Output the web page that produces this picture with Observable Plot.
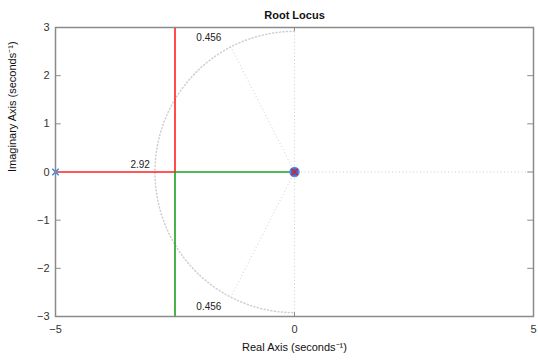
<!DOCTYPE html>
<html><head><meta charset="utf-8">
<script src="https://cdn.jsdelivr.net/npm/d3@7"></script>
<script src="https://cdn.jsdelivr.net/npm/@observablehq/plot@0.6"></script>
<style>body{margin:0;background:#fff}</style>
</head><body><div id="chart"></div>
<script>
// Locus branches
const redRe = [-5, -2.5, -2.5];
const redIm = [0, 0, 3];
const greenRe = [0, -2.5, -2.5];
const greenIm = [0, 0, -3];
// Poles
const poleRe = [0, -5];
const poleIm = [0, 0];
// Grid values
const wnGrid = [2.92];
const zetaGrid = [0.456];
// Ticks
const xTicks = [-5, 0, 5];
const yTicks = [-3, -2, -1, 0, 1, 2, 3];

const red = redRe.map((x, i) => ({x, y: redIm[i]}));
const green = greenRe.map((x, i) => ({x, y: greenIm[i]}));
const poles = poleRe.map((x, i) => ({x, y: poleIm[i]}));
const wn = wnGrid[0], z = zetaGrid[0];
const arc = d3.range(90, 270.1, 1).map(a => ({x: wn*Math.cos(a*Math.PI/180), y: wn*Math.sin(a*Math.PI/180)}));
const s = Math.sqrt(1 - z*z);
const dampLines = [
  {x1: 0, y1: 0, x2: -wn*z, y2: wn*s},
  {x1: 0, y1: 0, x2: -wn*z, y2: -wn*s}
];
const dash = "1,2.5";
const gridCol = "#cfcfcf";
const font = "Liberation Sans, Arial, sans-serif";

const plot = Plot.plot({
  width: 538, height: 363,
  marginLeft: 55, marginRight: 5, marginTop: 27, marginBottom: 47,
  style: {fontFamily: font, fontSize: "11px", background: "#fff"},
  x: {domain: [-5, 5], axis: null},
  y: {domain: [-3, 3], axis: null},
  marks: [
    // grid
    Plot.line(arc, {x: "x", y: "y", stroke: gridCol, strokeDasharray: dash}),
    Plot.link(dampLines, {x1: "x1", y1: "y1", x2: "x2", y2: "y2", stroke: gridCol, strokeDasharray: dash}),
    Plot.ruleX([0], {y1: -3, y2: 3, stroke: gridCol, strokeDasharray: dash}),
    Plot.ruleY([0], {x1: 0, x2: 5, stroke: gridCol, strokeDasharray: dash}),
    Plot.text([`${wn}`], {x: -wn, y: 0, dx: -5, dy: -7, textAnchor: "end", fontSize: 10, fill: "#222"}),
    Plot.text([`${z}`], {x: -wn*z, y: 3, dx: -22, dy: 10, textAnchor: "middle", fontSize: 10, fill: "#222"}),
    Plot.text([`${z}`], {x: -wn*z, y: -3, dx: -22, dy: -10, textAnchor: "middle", fontSize: 10, fill: "#222"}),
    // locus
    Plot.line(red, {x: "x", y: "y", stroke: "#ff2020", strokeWidth: 1.6}),
    Plot.line(green, {x: "x", y: "y", stroke: "#20a020", strokeWidth: 1.6}),
    // poles
    Plot.dot(poles.slice(0,1), {x: "x", y: "y", r: 4.5, fill: "#3070e0", stroke: "#5a8ae8"}),
    Plot.dot(poles.slice(0,1), {x: "x", y: "y", r: 3, symbol: "times", stroke: "#e02020", strokeWidth: 1.5}),
    Plot.dot(poles.slice(1), {x: "x", y: "y", r: 3, symbol: "times", stroke: "#4080e0", strokeWidth: 1.5}),
    // frame & ticks
    Plot.frame({stroke: "#8a8a8a", strokeWidth: 1.5}),
    Plot.ruleY(yTicks, {x1: -5, x2: -4.88, stroke: "#8a8a8a"}),
    Plot.ruleY(yTicks, {x1: 4.88, x2: 5, stroke: "#8a8a8a"}),
    Plot.ruleX(xTicks, {y1: -3, y2: -2.92, stroke: "#8a8a8a"}),
    Plot.ruleX(xTicks, {y1: 2.92, y2: 3, stroke: "#8a8a8a"}),
    Plot.text(yTicks, {x: -5, y: d => d, text: d => d < 0 ? "\u2212" + Math.abs(d) : `${d}`, dx: -6, textAnchor: "end", fill: "#333"}),
    Plot.text(xTicks, {x: d => d, y: -3, text: d => d < 0 ? "\u2212" + Math.abs(d) : `${d}`, dy: 13, fill: "#333"}),
    // titles
    Plot.text(["Root Locus"], {frameAnchor: "top", dy: -16, fontSize: 11, fontWeight: "bold", fill: "#111"}),
    Plot.text(["Real Axis (seconds\u207B\u00B9)"], {frameAnchor: "bottom", dy: 34, fontSize: 11, fill: "#111"}),
    Plot.text(["Imaginary Axis (seconds\u207B\u00B9)"], {frameAnchor: "left", dx: -43, rotate: -90, fontSize: 11, fill: "#111"})
  ]
});
document.getElementById("chart").appendChild(plot);
</script>
</body></html>
